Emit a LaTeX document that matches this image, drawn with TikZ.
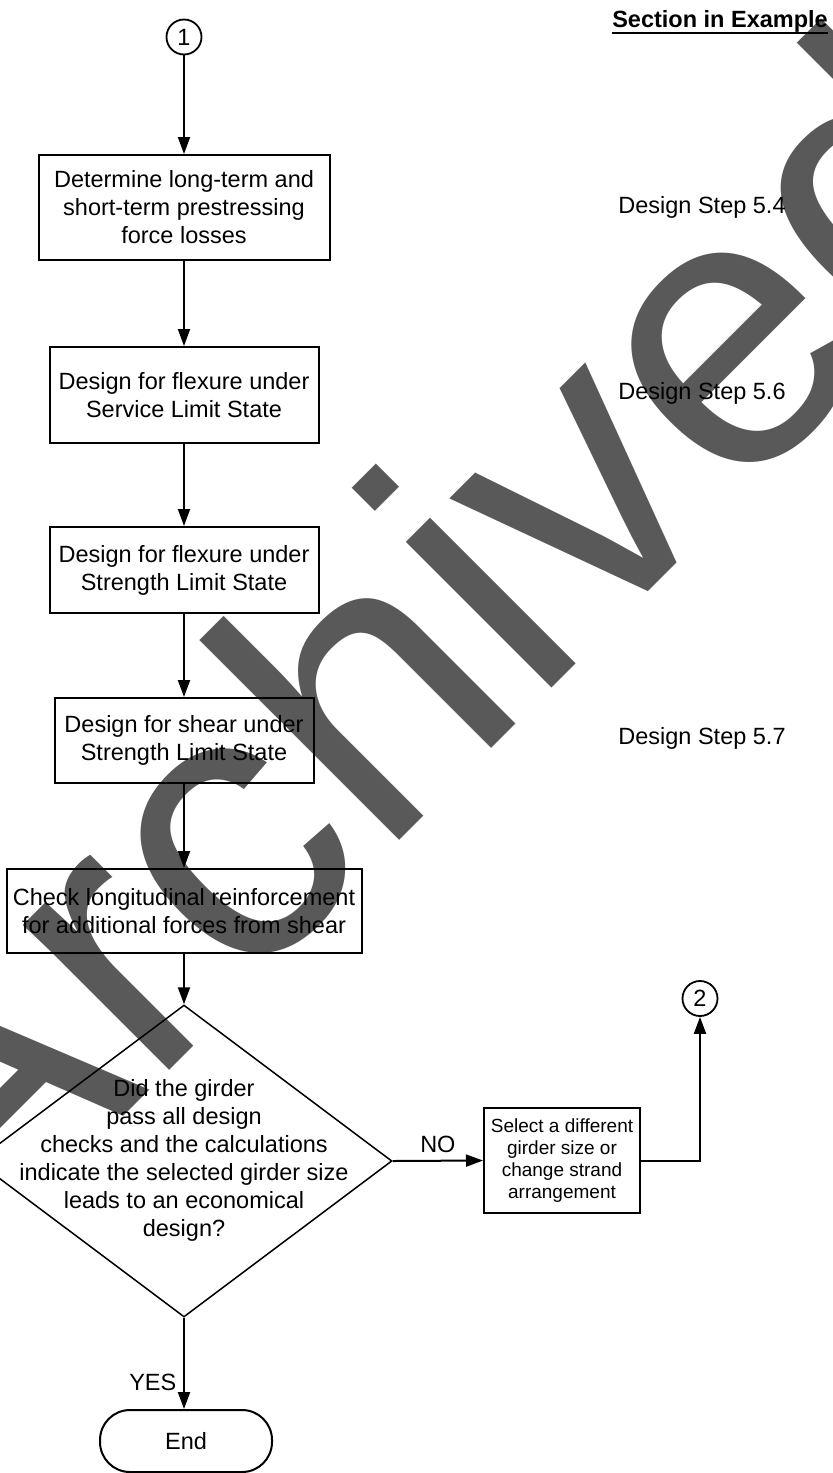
\documentclass[tikz,border=0pt]{standalone}
\usepackage{fontspec}
\setmainfont{Liberation Sans}
\usetikzlibrary{arrows.meta,shapes.geometric}
\definecolor{wm}{HTML}{595959}
\begin{document}
\begin{tikzpicture}[x=0.5pt,y=-0.5pt,
  font=\fontsize{11.75}{14}\selectfont,
  box/.style={draw,line width=1pt,inner sep=0pt,align=center},
  flow/.style={line width=1pt,-{Triangle[length=8.5pt,width=6pt]}},
  conn/.style={draw,circle,line width=0.9pt,inner sep=0pt,minimum size=17.5pt},
  lbl/.style={anchor=west,inner sep=0pt}]
\useasboundingbox (0,0) rectangle (833,1473);
\begin{scope}
\clip (0,0) rectangle (833,1473);
\node[anchor=base west, rotate=45, inner sep=0pt, text=wm,
      font=\fontsize{195}{200}\selectfont] (wmark) at (-33.5,1273.5) {Archived};
\end{scope}

% header and section references
\node[anchor=base, inner sep=0pt, font=\fontsize{11.75}{14}\selectfont\bfseries] (hdr) at (720,27) {Section in Example};
\draw[line width=1pt] ([yshift=-3pt]hdr.base west) -- ([yshift=-3pt]hdr.base east);
\node[lbl] (s54) at (618,207) {Design Step 5.4};
\node[lbl] (s56) at (618,393) {Design Step 5.6};
\node[lbl] (s57) at (618,738) {Design Step 5.7};

% flow
\node[conn] (c1) at (184,37) {1};
\node[box, minimum width=145.5pt, minimum height=52.5pt] (b1) at (184,207.5)
  {Determine long-term and\\short-term prestressing\\force losses};
\node[box, minimum width=134.5pt, minimum height=48pt] (b2) at (184,395)
  {Design for flexure under\\Service Limit State};
\node[box, minimum width=134.5pt, minimum height=43pt] (b3) at (184,570)
  {Design for flexure under\\Strength Limit State};
\node[box, minimum width=129.5pt, minimum height=42.5pt] (b4) at (184,740.5)
  {Design for shear under\\Strength Limit State};
\node[box, minimum width=177.5pt, minimum height=42pt] (b5) at (184,911)
  {Check longitudinal reinforcement\\for additional forces from shear};
\node[diamond, draw, line width=0.75pt, inner sep=0pt, minimum width=208pt, minimum height=156pt] (dec) at (184,1161) {};
\node[inner sep=0pt, align=center] (dectext) at (184,1160)
  {Did the girder\\pass all design\\checks and the calculations\\indicate the selected girder size\\leads to an economical\\design?};
\node[box, minimum width=78pt, minimum height=52.5pt, font=\fontsize{9.5}{11}\selectfont] (b6) at (562,1160.5)
  {Select a different\\girder size or\\change strand\\arrangement};
\node[conn] (c2) at (700,998.5) {2};
\node[draw, line width=1pt, rounded corners=15pt, minimum width=86pt, minimum height=31pt, inner sep=0pt] (fin) at (186,1441) {End};

\draw[flow] (c1) -- (b1);
\draw[flow] (b1) -- (b2);
\draw[flow] (b2) -- (b3);
\draw[flow] (b3) -- (b4);
\draw[flow] (b4) -- (b5);
\draw[flow] (b5) -- (dec.north);
\draw[flow] (dec.east) -- (b6.west) node[midway, above] (no) {NO};
\draw[flow] (b6.east) -| (c2.south);
\draw[flow] (dec.south) -- (dec.south |- fin.north) node[pos=0.71, left] (yes) {YES};
\end{tikzpicture}
\end{document}
